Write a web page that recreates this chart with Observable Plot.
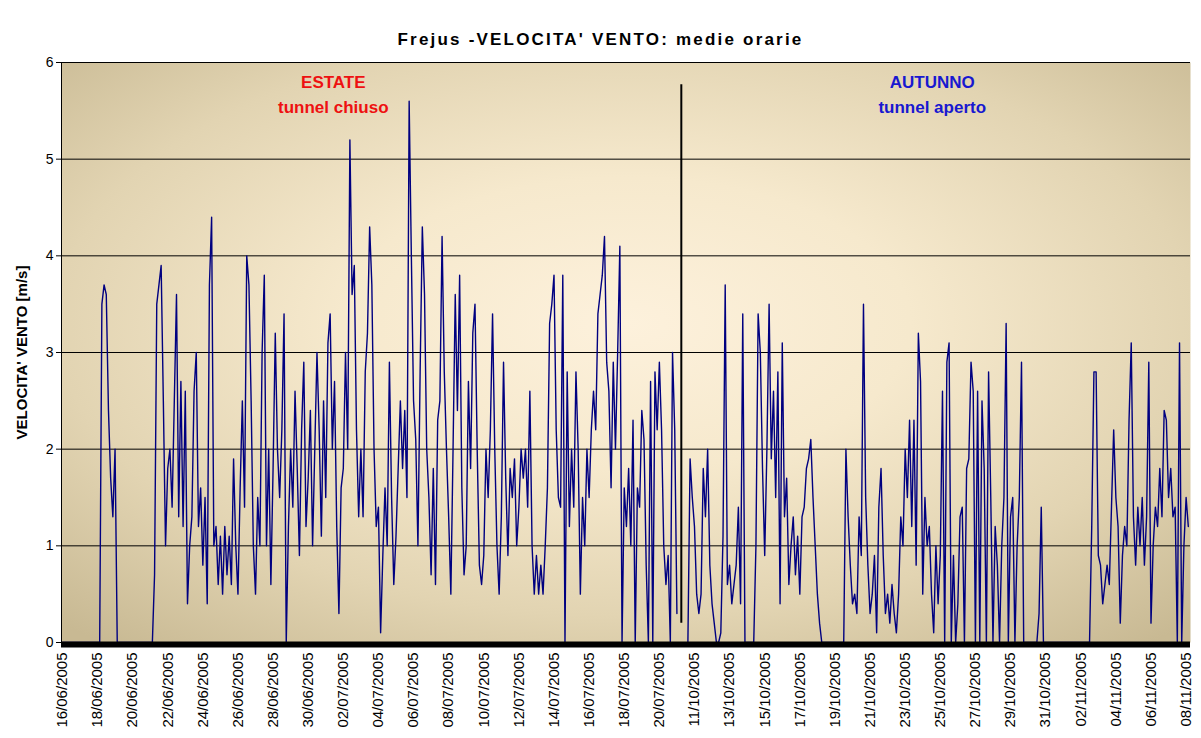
<!DOCTYPE html>
<html><head><meta charset="utf-8">
<script src="https://cdn.jsdelivr.net/npm/d3@7"></script>
<script src="https://cdn.jsdelivr.net/npm/@observablehq/plot@0.6"></script>
<style>
body{margin:0;background:#fff;font-family:"Liberation Sans",Arial,sans-serif;}
#title{height:50px;box-sizing:border-box;padding-top:30px;line-height:20px;text-align:center;font-weight:bold;font-size:17px;letter-spacing:2.2px;color:#000;}
</style></head><body>
<svg width="0" height="0" style="position:absolute"><defs>
<radialGradient id="bg" cx="0.5" cy="0.45" r="0.72">
<stop offset="0" stop-color="#fdf1dc"/>
<stop offset="0.35" stop-color="#f6e9cd"/>
<stop offset="0.7" stop-color="#e2d4b2"/>
<stop offset="1" stop-color="#c8b993"/>
</radialGradient></defs></svg>
<div id="title">Frejus -VELOCITA' VENTO: medie orarie</div>
<div id="chart"></div>
<script>
// x position: days from 16/06/2005 along the category axis (summer block, then autumn block)
const step = 0.125; // 3-hour samples
const summerStart = 0;
const summerValues = [
0,0,0,0,0,0,0,0, 0,0,0,0,0,0,0,0,
0,0,3.5,3.7,3.6,2.4,1.7,1.3,
2.0,0,0,0,0,0,0,0,
0,0,0,0,0,0,0,0,
0,0,0.7,3.5,3.7,3.9,2.5,1.0,
1.8,2.0,1.4,2.5,3.6,1.3,2.7,1.2,
2.6,0.4,1.0,1.3,2.6,3.0,1.2,1.6,
0.8,1.5,0.4,3.7,4.4,1.0,1.2,0.6,
1.1,0.5,1.2,0.7,1.1,0.6,1.9,1.0,
0.5,1.6,2.5,1.4,4.0,3.7,2.5,1.0,
0.5,1.5,1.0,3.0,3.8,1.0,2.0,0.6,
1.8,3.2,2.0,1.5,2.2,3.4,0,1.2,
2.0,1.4,2.6,1.8,0.9,2.2,2.9,1.2,
1.7,2.4,1.0,2.0,3.0,2.2,1.1,2.5,
1.5,3.1,3.4,2.0,2.7,1.2,0.3,1.6,
1.8,3.0,2.0,5.2,3.6,3.9,2.2,1.3,
2.0,1.3,2.8,3.2,4.3,3.7,2.0,1.2,
1.4,0.1,0.9,1.6,1.0,2.9,1.5,0.6,
1.1,1.8,2.5,1.8,2.4,1.5,5.6,4.0,
2.5,2.1,1.0,2.8,4.3,3.6,2.0,1.5,
0.7,1.8,0.6,2.3,2.5,4.2,2.8,2.0,
1.3,0.5,2.0,3.6,2.4,3.8,1.6,0.7,
1.0,2.7,1.8,3.2,3.5,2.0,0.8,0.6,
0.9,2.0,1.5,2.2,3.4,2.0,1.0,0.5,
1.3,2.9,1.7,0.9,1.8,1.5,1.9,1.0,
1.4,2.0,1.7,2.0,1.4,2.6,1.0,0.5,
0.9,0.5,0.8,0.5,1.0,1.6,3.3,3.5,
3.8,2.2,1.5,1.4,3.8,0,2.8,1.2,
2.0,1.4,2.8,2.0,0.5,1.5,1.0,2.0,
1.5,2.2,2.6,2.2,3.4,3.6,3.8,4.2,
2.9,2.6,1.6,2.9,2.0,3.0,4.1,0,
1.6,1.2,1.8,1.0,2.3,0,1.6,1.4,
2.4,2.1,0.8,0,2.7,0,2.8,2.2,
2.9,2.2,1.0,0.6,0.9,0,3.0,2.2,
0.3
];
const autumnStart = 35.625;
const autumnValues = [
0,1.9,1.5,1.2,0.5,0.3,0.5,1.8,
1.3,2.0,0.8,0.4,0.2,0,0,0.1,
1.1,3.7,0.6,0.8,0.4,0.6,0.8,1.4,
0.4,3.4,0,0,0,0,0,1.0,
3.4,3.0,1.8,0.9,2.0,3.5,1.9,2.6,
1.5,2.8,0.4,3.1,1.3,1.7,0.6,1.0,
1.3,0.7,1.1,0.5,1.3,1.4,1.8,1.9,
2.1,1.5,1.0,0.5,0.2,0,0,0,
0,0,0,0,0,0,0,0,
2.0,1.3,0.8,0.4,0.5,0.3,1.3,0.9,
3.5,1.5,0.8,0.3,0.5,0.9,0.1,1.4,
1.8,0.9,0.3,0.5,0.2,0.6,0.3,0.1,
0.5,1.3,1.0,2.0,1.5,2.3,1.2,2.3,
0.8,3.2,2.7,0.5,1.5,1.0,1.2,0.5,
0.1,1.0,0.4,0.9,2.6,0,2.9,3.1,
0,0.9,0,0.4,1.3,1.4,0,1.8,
1.9,2.9,2.6,0,2.6,0,2.5,1.8,
0,2.8,1.5,0,1.2,0.8,0,1.0,
1.5,3.3,0,1.3,1.5,0,1.0,1.5,
2.9,0,0,0,0,0,0,0,
0.3,1.4,0,0,0,0,0,0,
0,0,0,0,0,0,0,0,
0,0,0,0,0,0,0,0,
1.2,2.8,2.8,0.9,0.8,0.4,0.6,0.8,
0.6,1.4,2.2,1.5,1.2,0.2,0.9,1.2,
1.0,2.3,3.1,1.3,0.8,1.4,1.0,1.5,
0.8,1.3,2.9,0.2,1.0,1.4,1.2,1.8,
1.3,2.4,2.3,1.5,1.8,1.3,1.4,0,
3.1,0,1.0,1.5,1.2
];
const tickLabels = ["16/06/2005","18/06/2005","20/06/2005","22/06/2005","24/06/2005","26/06/2005","28/06/2005","30/06/2005","02/07/2005","04/07/2005","06/07/2005","08/07/2005","10/07/2005","12/07/2005","14/07/2005","16/07/2005","18/07/2005","20/07/2005","11/10/2005","13/10/2005","15/10/2005","17/10/2005","19/10/2005","21/10/2005","23/10/2005","25/10/2005","27/10/2005","29/10/2005","31/10/2005","02/11/2005","04/11/2005","06/11/2005","08/11/2005"];
const tickPositions = tickLabels.map((_, i) => i * 2);
const yTicks = [0, 1, 2, 3, 4, 5, 6];
const separator = [{t: 35.25, y1: 0.2, y2: 5.77}];
const annotations = [
  {text: "ESTATE", t: 15.43, v: 5.79, color: "#ee1111"},
  {text: "tunnel chiuso", t: 15.43, v: 5.53, color: "#ee1111"},
  {text: "AUTUNNO", t: 49.54, v: 5.79, color: "#1818d0"},
  {text: "tunnel aperto", t: 49.54, v: 5.53, color: "#1818d0"}
];
const yLabel = "VELOCITA' VENTO [m/s]";
const xDomain = [-0.05, 64.25];

const series = [
  ...summerValues.map((v, i) => ({t: summerStart + i * step, v, period: "estate"})),
  ...autumnValues.map((v, i) => ({t: autumnStart + i * step, v, period: "autunno"}))
];
const labelByPos = new Map(tickPositions.map((p, i) => [p, tickLabels[i]]));

const chart = Plot.plot({
  width: 1201, height: 688,
  marginTop: 12, marginBottom: 96, marginLeft: 61, marginRight: 11,
  x: {domain: xDomain, axis: null},
  y: {domain: [0, 6], axis: null},
  color: {type: "identity"},
  style: {fontFamily: "'Liberation Sans', Arial, sans-serif", background: "transparent", overflow: "visible", color: "#000"},
  marks: [
    Plot.frame({fill: "url(#bg)", stroke: null}),
    Plot.gridY(yTicks.slice(1), {stroke: "#000", strokeOpacity: 1, strokeWidth: 1}),
    Plot.ruleX([xDomain[0]], {stroke: "#000", strokeWidth: 1}),
    Plot.line(series, {x: "t", y: "v", z: "period", stroke: "#000080", strokeWidth: 1.4, curve: "linear"}),
    Plot.ruleX(separator, {x: "t", y1: "y1", y2: "y2", stroke: "#000", strokeWidth: 2}),
    Plot.ruleY([0], {stroke: "#000", strokeWidth: 6, dy: 2}),
    Plot.axisY({ticks: yTicks, tickFormat: d => String(d), tickSize: 5, tickPadding: 3, fontSize: 14, label: null}),
    Plot.axisX({ticks: tickPositions, tickFormat: d => labelByPos.get(d), tickRotate: -90, tickSize: 0, tickPadding: 10, fontSize: 15, label: null, style: "letter-spacing:0.6px"}),
    Plot.text(annotations, {x: "t", y: "v", text: "text", fill: "color", fontWeight: "bold", fontSize: 17}),
    Plot.text([yLabel], {frameAnchor: "left", dx: -39, rotate: -90, textAnchor: "middle", fontWeight: "bold", fontSize: 15, style: "letter-spacing:3.5px"})
  ]
});
document.getElementById("chart").appendChild(chart);
</script>
</body></html>
